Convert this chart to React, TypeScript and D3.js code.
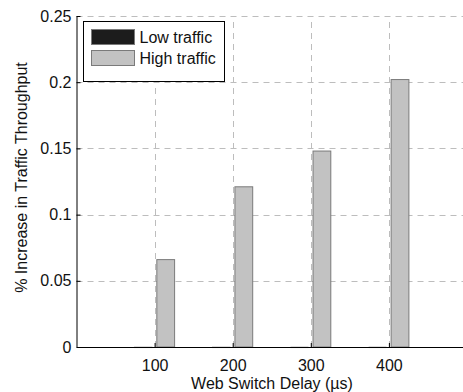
import React, { useEffect, useRef } from 'react';
import * as d3 from 'd3';

const delays = [100, 200, 300, 400];
const seriesNames = ['Low traffic', 'High traffic'];
const lowTraffic = [-0.0004, -0.0004, -0.0004, -0.0004];
const highTraffic = [0.066, 0.121, 0.148, 0.202];
const yTicks = [0, 0.05, 0.1, 0.15, 0.2, 0.25];
const xTicks = [100, 200, 300, 400, 500];

const fills = ['#1c1c1c', '#c2c2c2'];
const font = '"Liberation Sans", Arial, Helvetica, sans-serif';

export default function App() {
  const svgRef = useRef<SVGSVGElement>(null);
  const width = 463;
  const height = 392;

  useEffect(() => {
    const svg = d3.select(svgRef.current);
    svg.selectAll('*').remove();

    const x = d3.scaleLinear().domain([0, 500]).range([76.5, 467]);
    const y = d3.scaleLinear().domain([0, 0.25]).range([347, 16]);
    const inner = d3.scaleBand().domain(seriesNames).range([-20, 20]).paddingInner(0.2);

    // grid
    const grid = svg.append('g').attr('stroke', '#bdbdbd').attr('stroke-dasharray', '6,5').attr('stroke-width', 1);
    grid.selectAll('line.gy')
      .data(yTicks.slice(1))
      .enter()
      .append('line')
      .attr('x1', x(0))
      .attr('x2', x(500))
      .attr('y1', d => Math.round(y(d)) + 0.5)
      .attr('y2', d => Math.round(y(d)) + 0.5);
    grid.selectAll('line.gx')
      .data(xTicks)
      .enter()
      .append('line')
      .attr('x1', d => Math.round(x(d)) + 0.5)
      .attr('x2', d => Math.round(x(d)) + 0.5)
      .attr('y1', y(0))
      .attr('y2', y(0.25));

    // bars
    const rows = delays.map((d, i) => ({ delay: d, values: [lowTraffic[i], highTraffic[i]] }));
    const groups = svg.selectAll('g.grp')
      .data(rows)
      .enter()
      .append('g')
      .attr('transform', d => `translate(${x(d.delay)},0)`);
    groups.selectAll('rect')
      .data(d => d.values.map((v, j) => ({ name: seriesNames[j], v, j })))
      .enter()
      .append('rect')
      .attr('x', d => inner(d.name)!)
      .attr('width', inner.bandwidth())
      .attr('y', d => Math.min(y(d.v), y(0)))
      .attr('height', d => Math.max(Math.abs(y(d.v) - y(0)), 0.8))
      .attr('fill', d => (d.v < 0 ? '#9a9a9a' : fills[d.j]))
      .attr('stroke', '#7a7a7a')
      .attr('stroke-width', d => (d.v < 0 ? 0.5 : 1));

    // axes
    const yAxis = svg.append('g')
      .attr('transform', `translate(${x(0)},0)`)
      .call(d3.axisLeft(y).tickValues(yTicks).tickFormat(d3.format('')).tickSizeInner(-4).tickSizeOuter(0).tickPadding(5));
    yAxis.select('.domain').attr('stroke', '#000');
    yAxis.selectAll('.tick text').attr('font-size', 16).attr('font-family', font).attr('fill', '#111');

    const xAxis = svg.append('g')
      .attr('transform', `translate(0,${y(0)})`)
      .call(d3.axisBottom(x).tickValues(delays).tickSizeInner(-4).tickSizeOuter(0).tickPadding(13));
    xAxis.select('.domain').attr('stroke', '#000');
    xAxis.selectAll('.tick text').attr('font-size', 16).attr('font-family', font).attr('fill', '#111');

    // axis titles
    svg.append('text')
      .attr('x', 272)
      .attr('y', 389)
      .attr('text-anchor', 'middle')
      .attr('font-size', 16)
      .attr('font-family', font)
      .attr('fill', '#111')
      .text('Web Switch Delay (\u00b5s)');
    svg.append('text')
      .attr('transform', `translate(27,${y(0.128)}) rotate(-90)`)
      .attr('text-anchor', 'middle')
      .attr('font-size', 16)
      .attr('font-family', font)
      .attr('fill', '#111')
      .text('% Increase in Traffic Throughput');

    // legend
    const lg = svg.append('g').attr('transform', 'translate(83.5,21.5)');
    lg.append('rect').attr('width', 141).attr('height', 60).attr('fill', '#fff').attr('stroke', '#000');
    seriesNames.forEach((name, i) => {
      lg.append('rect')
        .attr('x', 8)
        .attr('y', 8 + i * 21)
        .attr('width', 43)
        .attr('height', 15)
        .attr('fill', fills[i])
        .attr('stroke', '#7a7a7a');
      lg.append('text')
        .attr('x', 56)
        .attr('y', 21 + i * 21)
        .attr('font-size', 16)
        .attr('font-family', font)
        .attr('fill', '#111')
        .text(name);
    });
  }, []);

  return (
    <svg
      ref={svgRef}
      width={width}
      height={height}
      style={{ position: 'absolute', left: 0, top: 0, background: '#fff' }}
    ></svg>
  );
}
